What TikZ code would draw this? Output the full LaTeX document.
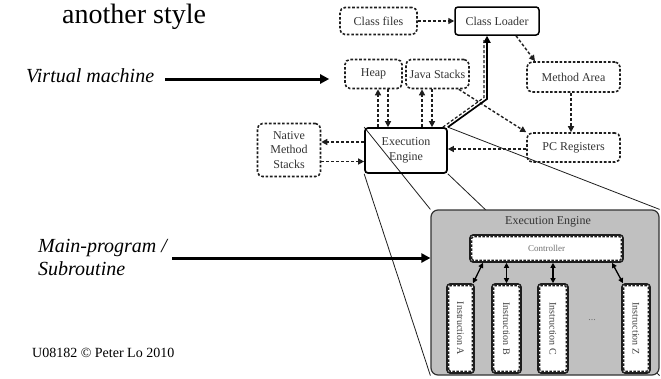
\documentclass[tikz,border=0pt]{standalone}
\usepackage{fontspec}
\usepackage{graphicx}
\setmainfont{Liberation Serif}
\usetikzlibrary{arrows.meta,backgrounds}

\definecolor{ink}{HTML}{1E1E1E}
\definecolor{soft}{HTML}{333333}
\definecolor{panelgray}{HTML}{C0C0C0}
\definecolor{labelgray}{HTML}{707070}
\definecolor{instrtext}{HTML}{404040}

\tikzset{
  dbox/.style={draw=ink, line width=1.6pt, dash pattern=on 2.6pt off 1.8pt,
    rounded corners=5pt, inner sep=0pt, align=center, text=soft,
    font=\fontsize{12}{14.5}\selectfont},
  sbox/.style={draw=black, line width=1.7pt, rounded corners=3pt,
    inner sep=0pt, align=center, text=soft,
    font=\fontsize{12}{15}\selectfont},
  darrow/.style={draw=ink, line width=1.4pt, dash pattern=on 3pt off 2pt,
    -{Triangle[length=6pt,width=6pt]}},
  bigarrow/.style={line width=3pt, -{Triangle[length=9pt,width=9pt]}},
  proj/.style={line width=0.8pt, draw=ink},
  panel/.style={draw=soft, fill=panelgray, line width=1.2pt,
    rounded corners=7pt, inner sep=0pt},
  dblbox/.style={draw=ink, fill=white, line width=1.6pt,
    rounded corners=3pt, inner sep=0pt},
  innerdash/.style={draw=ink, line width=1.4pt, dash pattern=on 2.5pt off 1.5pt},
  twoway/.style={line width=1.3pt,
    {Triangle[length=5pt,width=5pt]}-{Triangle[length=5pt,width=5pt]}},
  instr/.style={dblbox, minimum height=89pt, text=instrtext,
    font=\fontsize{10}{11}\selectfont},
  slide/.style={inner sep=0pt, text=black},
}

\begin{document}
\begin{tikzpicture}[x=1pt,y=-1pt]
\useasboundingbox (0,0) rectangle (661,378);

% slide text
\node[slide, anchor=base west, font=\fontsize{28}{30}\selectfont] (title) at (62,23) {another style};
\node[slide, anchor=base west, font=\fontsize{20}{22}\selectfont\itshape] (vm) at (26,82.5) {Virtual machine};
\node[slide, anchor=base west, font=\fontsize{20}{23}\selectfont\itshape] (mp) at (38,252) {Main-program /};
\node[slide, anchor=base west, font=\fontsize{20}{23}\selectfont\itshape] (sr) at (38,275) {Subroutine};
\node[slide, anchor=base west, font=\fontsize{14}{16}\selectfont] (copy) at (32,357) {U08182 \textcopyright{} Peter Lo 2010};

% virtual machine parts
\node[dbox, minimum width=77pt, minimum height=27pt] (cf) at (378.5,21) {Class files};
\node[sbox, line width=1.5pt, minimum width=84pt, minimum height=28pt] (cl) at (497,21) {Class Loader};
\node[dbox, minimum width=93pt, minimum height=30pt] (ma) at (573.5,77) {Method Area};
\node[dbox, minimum width=57pt, minimum height=29pt] (heap) at (373.5,74) {Heap};
\node[dbox, minimum width=63pt, minimum height=29pt] (js) at (437.5,74) {Java Stacks};
\node[sbox, minimum width=82pt, minimum height=45pt] (ee) at (406,150.5) {Execution\\Engine};
\node[dbox, minimum width=63pt, minimum height=53pt] (nms) at (289,150) {Native\\Method\\Stacks};
\node[dbox, minimum width=93pt, minimum height=29pt] (pc) at (573.5,147.5) {PC Registers};

% data flow between the parts
\draw[darrow] (cf) -- (cl);
\draw[darrow] ([xshift=19pt]cl.south) -- ([xshift=-38.5pt]ma.north);
\draw[darrow] ([xshift=4.5pt]heap.south |- ee.north) -- ([xshift=4.5pt]heap.south);
\draw[darrow] ([xshift=14.5pt]heap.south) -- ([xshift=14.5pt]heap.south |- ee.north);
\draw[darrow] ([xshift=-15.5pt]js.south |- ee.north) -- ([xshift=-15.5pt]js.south);
\draw[darrow] ([xshift=-5.5pt]js.south) -- ([xshift=-5.5pt]js.south |- ee.north);
\draw[darrow] ([xshift=-11pt]js.south east) -- (pc.north west);
\draw[darrow] ([xshift=-2.5pt]ma.south) -- ([xshift=-2.5pt]ma.south |- pc.north);
\draw[darrow] ([yshift=-1.5pt]pc.west) -- ([yshift=-1.5pt]pc.west -| ee.east);
\draw[darrow] ([yshift=8.5pt]ee.west) -- ([yshift=8.5pt]ee.west -| nms.east);
\draw[darrow] ([yshift=-11.5pt]nms.east) -- ([yshift=-11.5pt]nms.east -| ee.west);

% loading path back to the class loader
\coordinate (sbend) at (487,99);
\coordinate (dbend) at (484,97.5);
\draw[line width=1.7pt, -{Triangle[length=7pt,width=7pt]}] (ee.north east) -- (sbend) -- (sbend |- cl.south);
\draw[draw=ink, line width=1.2pt, dash pattern=on 3pt off 2pt] ([xshift=-5pt]ee.north east) -- (dbend) -- ([yshift=-3pt]dbend |- cl.south);

% enlarged execution engine
\node[panel, minimum width=228pt, minimum height=165pt] (eng) at (545,292.5) {};
\node[inner sep=0pt, text=soft, font=\fontsize{12}{14}\selectfont] (engtitle) at (548,222) {Execution Engine};

\begin{pgfonlayer}{background}
  \draw[proj] (ee.north west) -- (eng.north west);
  \draw[proj] (ee.south west) -- (eng.south west);
  \draw[proj] (ee.north east) -- (eng.north east);
  \draw[proj] (ee.south east) -- (eng.south east);
\end{pgfonlayer}

\node[dblbox, minimum width=153pt, minimum height=27pt, text=labelgray,
  font=\fontsize{9}{10}\selectfont] (ctrl) at (546.5,248.5) {Controller};
\node[instr, minimum width=27pt] (ia) at (460.5,328.5) {\rotatebox{-90}{Instruction A}};
\node[instr, minimum width=29pt] (ib) at (506.5,328.5) {\rotatebox{-90}{Instruction B}};
\node[instr, minimum width=30pt] (ic) at (553,328.5) {\rotatebox{-90}{Instruction C}};
\node[instr, minimum width=28pt] (iz) at (636,328.5) {\rotatebox{-90}{Instruction Z}};
\node[inner sep=0pt, text=labelgray, font=\fontsize{10}{11}\selectfont] (dots) at (592,320) {...};

\foreach \b in {ctrl,ia,ib,ic,iz}
  \draw[innerdash, rounded corners=1.5pt] ([shift={(2.5pt,2.5pt)}]\b.south west) rectangle ([shift={(-2.5pt,-2.5pt)}]\b.north east);

\draw[twoway] ([xshift=-63.5pt]ctrl.south) -- ([xshift=12.5pt]ia.north);
\draw[twoway] (ib.north |- ctrl.south) -- (ib.north);
\draw[twoway] (ic.north |- ctrl.south) -- (ic.north);
\draw[twoway] ([xshift=65.5pt]ctrl.south) -- ([xshift=-13pt]iz.north);

% pointers from the slide labels
\coordinate (vmtail) at (165,79);
\draw[bigarrow] (vmtail) -- ([xshift=-15pt]vmtail -| heap.west);
\coordinate (mptail) at (172,258);
\draw[bigarrow] (mptail) -- (mptail -| eng.west);
\end{tikzpicture}
\end{document}
